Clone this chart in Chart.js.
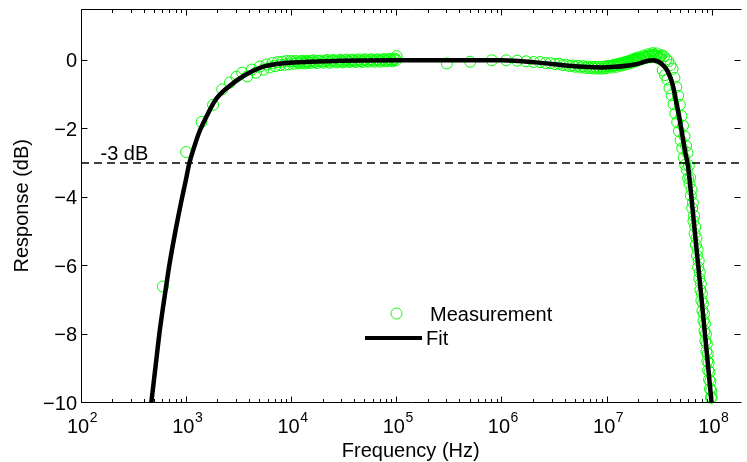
<!DOCTYPE html>
<html><head><meta charset="utf-8">
<script src="https://cdn.jsdelivr.net/npm/chart.js@4"></script>
<style>html,body{margin:0;padding:0;background:#fff;}canvas{display:block;}</style>
</head><body>
<canvas id="c" width="747" height="462"></canvas>
<script>
// ---- data ----
const measLowFreqHz = [
  600,1000,1400,1800,2200,2600,3000,3400,3800,4200,
  4600,5000,5400,5800,6200,6600,7000,7400,7800,8200,
  8600,9000,9400,9800,10200,10600,11000,11800,12600,13400,
  14200,15000,16200,17400,18600,20200,21800,23400,25000,27000,
  29000,31000,33400,35800,38200,41000,44200,47400,50600,54200,
  57800,61800,66200,70600,75400,80200,85400,91000,96600,99800];
const measLowDb = [
  -6.61,-2.68,-1.80,-1.30,-0.85,-0.65,-0.48,-0.36,-0.47,-0.27,
  -0.36,-0.18,-0.27,-0.12,-0.21,-0.08,-0.17,-0.05,-0.14,-0.04,
  -0.13,-0.02,-0.12,-0.02,-0.03,-0.10,-0.02,-0.09,-0.01,-0.09,
  -0.02,-0.08,0.00,-0.08,-0.01,-0.07,0.01,-0.07,0.01,-0.06,
  0.02,-0.06,0.02,-0.05,0.02,-0.05,0.03,-0.05,0.03,-0.04,
  0.03,-0.04,0.03,-0.04,0.04,-0.03,0.04,-0.03,0.05,0.12];
const measMidFreqHz = [
  11400,12200,13000,13800,14600,15400,16600,17800,19400,21000,
  22600,24200,26200,28200,30200,32200,34600,37000,39800,42600,
  45800,49000,52200,56200,59800,64200,68200,73000,77800,82600,
  88200,93800,98200];
const measMidDb = [
  -0.06,-0.04,-0.06,-0.03,-0.05,-0.02,-0.05,-0.02,-0.04,-0.02,
  -0.04,-0.01,-0.03,-0.01,-0.03,0.00,-0.03,0.00,-0.02,0.00,
  -0.02,0.01,-0.02,0.01,-0.01,0.01,-0.01,0.01,-0.01,0.02,
  0.00,0.02,0.00];
const measHighFreqMHz = [
  0.3,0.5,0.8,1.1,1.4,1.7,2.0,2.3,2.6,2.9,
  3.2,3.5,3.8,4.1,4.4,4.7,5.0,5.3,5.6,5.9,
  6.2,6.5,6.8,7.1,7.4,7.7,8.0,8.3,8.6,8.9,
  9.2,9.5,9.8,10.4,11.0,11.6,12.2,12.8,13.4,14.0,
  14.6,15.2,15.8,16.4,17.0,17.6,18.2,18.8,19.4,20.0,
  21.2,22.4,23.6,24.8,26.0,27.2,28.4,29.6,30.8,32.0,
  32.9,33.8,34.7,35.6,36.5,37.4,38.3,39.2,40.1,41.0,
  41.9,42.8,43.7,44.6,45.5,46.4,47.3,48.2,49.1,50.0,
  50.9,51.8,52.7,53.6,54.5,55.4,56.3,57.2,58.1,59.0,
  59.9,60.8,61.7,62.6,63.5,64.4,65.3,66.2,67.1,68.0,
  68.9,69.8,70.7,71.6,72.5,73.4,74.3,75.2,76.1,77.0,
  77.9,78.8,79.7,80.6,81.5,82.4,83.3,84.2,85.1,86.0,
  86.9,87.8,88.7,89.6,90.5,91.4,92.3,93.2,94.1,95.0,
  95.9,96.8,97.7,98.6];
const measHighDb = [
  -0.09,-0.04,0.00,0.00,-0.01,-0.03,-0.05,-0.05,-0.08,-0.08,
  -0.11,-0.10,-0.14,-0.13,-0.17,-0.15,-0.19,-0.16,-0.21,-0.17,
  -0.22,-0.18,-0.23,-0.19,-0.24,-0.19,-0.24,-0.19,-0.24,-0.19,
  -0.24,-0.18,-0.23,-0.16,-0.21,-0.13,-0.19,-0.10,-0.16,-0.07,
  -0.13,-0.04,-0.10,-0.01,-0.07,0.03,-0.04,0.06,-0.01,0.09,
  0.03,0.14,0.07,0.18,0.09,0.21,0.10,0.20,0.05,0.12,
  0.15,-0.29,0.12,-0.43,0.03,-0.56,-0.03,-0.81,-0.14,-1.02,
  -0.25,-1.28,-0.51,-1.55,-0.78,-1.81,-1.04,-2.07,-1.30,-2.34,
  -1.63,-2.57,-1.91,-2.84,-2.22,-3.05,-2.50,-3.20,-2.70,-3.45,
  -3.07,-3.60,-3.43,-3.95,-3.78,-4.32,-4.16,-4.70,-4.54,-5.06,
  -4.87,-5.39,-5.20,-5.71,-5.53,-6.05,-5.86,-6.38,-6.19,-6.71,
  -6.52,-7.02,-6.82,-7.32,-7.11,-7.61,-7.41,-7.91,-7.70,-8.20,
  -8.00,-8.50,-8.29,-8.79,-8.58,-9.06,-8.84,-9.33,-9.11,-9.60,
  -9.38,-9.86,-9.65,-9.85];
const measPeakFreqMHz = [
  10.1,10.7,11.3,11.9,12.5,13.1,13.7,14.3,14.9,15.5,
  16.1,16.7,17.3,17.9,18.5,19.1,19.7,20.6,21.8,23.0,
  24.2,25.4,26.6,27.8,29.0,30.2,31.4];
const measPeakDb = [
  -0.18,-0.17,-0.16,-0.15,-0.13,-0.12,-0.10,-0.09,-0.08,-0.06,
  -0.05,-0.03,-0.02,0.00,0.01,0.03,0.04,0.06,0.08,0.10,
  0.12,0.14,0.15,0.16,0.14,0.12,0.08];
const fitFreqHz = [
  466,520,555,600,645,690,800,905,1000,1062,
  1200,1318,1527,1896,2531,3631,5610,8700,15000,30000,
  1e5,1e6,2.1e6,4.3e6,8.9e6,1.19e7,1.83e7,2.71e7,3.27e7,3.78e7,
  4.21e7,4.53e7,4.87e7,5.23e7,5.54e7,5.85e7,6.31e7,6.74e7,7.8e7,8.99e7,
  9.84e7];
const fitDb = [
  -10,-8.75,-8.0,-7.25,-6.6,-6.0,-4.9,-4.07,-3.45,-3.05,
  -2.5,-2.13,-1.7,-1.16,-0.77,-0.43,-0.17,-0.08,-0.04,-0.01,
  0,0,-0.06,-0.16,-0.21,-0.19,-0.12,0.0,-0.09,-0.33,
  -0.72,-1.2,-1.69,-2.25,-2.7,-3.05,-3.95,-4.85,-6.79,-8.74,
  -10];
const thresholdDb = -3;
const thresholdLabel = '-3 dB';
const xTickExponents = [2,3,4,5,6,7,8];
const yTickValues = [-10,-8,-6,-4,-2,0];
const xLimits = [100, 1.854e8];
const yLimits = [-10, 1.5];
const seriesNames = ['Measurement', 'Fit'];
const xTitle = 'Frequency (Hz)';
const yTitle = 'Response (dB)';

// ---- build chart ----
const FONT = '"Liberation Sans", Arial, Helvetica, sans-serif';
const GREEN = '#00ff00';
const toPts = (xs, ys, k) => xs.map((f, i) => ({x: f * k, y: ys[i]}));
const measPoints = [].concat(
  toPts(measLowFreqHz, measLowDb, 1),
  toPts(measMidFreqHz, measMidDb, 1),
  toPts(measHighFreqMHz, measHighDb, 1e6),
  toPts(measPeakFreqMHz, measPeakDb, 1e6));
const fitPoints = toPts(fitFreqHz, fitDb, 1);
const thrPoints = [{x:xLimits[0], y:thresholdDb},{x:xLimits[1], y:thresholdDb}];

const axesPlugin = {
  id: 'matlabAxes',
  afterDatasetsDraw(chart){
    const ctx = chart.ctx, a = chart.chartArea, xs = chart.scales.x, ys = chart.scales.y;
    const snap = v => Math.round(v - 0.5) + 0.5;
    const L = snap(a.left), T = snap(a.top), B = snap(a.bottom), R = a.right;
    ctx.save();
    ctx.strokeStyle = '#000'; ctx.lineWidth = 1;
    const seg = (x1,y1,x2,y2)=>{ctx.beginPath();ctx.moveTo(x1,y1);ctx.lineTo(x2,y2);ctx.stroke();};
    seg(L, T, R + 1, T); seg(L, B, R + 1, B); seg(L, T, L, B);
    const eMin = xTickExponents[0], eMax = xTickExponents[xTickExponents.length - 1];
    for (let e = eMin; e <= eMax; e++) {
      for (let m = 1; m <= 9; m++) {
        const v = m * Math.pow(10, e);
        if (v > xLimits[1]) break;
        const px = snap(xs.getPixelForValue(v));
        const len = m === 1 ? 6 : 3.5;
        seg(px, B, px, B - len); seg(px, T, px, T + len);
      }
    }
    for (const v of yTickValues) {
      const py = snap(ys.getPixelForValue(v));
      seg(L, py, L + 6, py); seg(R, py, R - 6, py);
    }
    ctx.fillStyle = '#000';
    ctx.font = '20px ' + FONT; ctx.textAlign = 'right'; ctx.textBaseline = 'alphabetic';
    for (const v of yTickValues) {
      const py = ys.getPixelForValue(v);
      const s = v < 0 ? '\u2212' + Math.abs(v) : String(v);
      ctx.fillText(s, 77, py + 7);
    }
    ctx.textAlign = 'left';
    for (const e of xTickExponents) {
      const px = xs.getPixelForValue(Math.pow(10, e));
      ctx.font = '20px ' + FONT; const w1 = ctx.measureText('10').width;
      ctx.font = '14px ' + FONT; const w2 = ctx.measureText(String(e)).width;
      const x0 = px - (w1 + w2) / 2 + 1;
      ctx.font = '20px ' + FONT; ctx.fillText('10', x0, 433);
      ctx.font = '14px ' + FONT; ctx.fillText(String(e), x0 + w1 + 0.5, 421.5);
    }
    ctx.font = '20px ' + FONT; ctx.textAlign = 'center';
    ctx.fillText(xTitle, (a.left + R) / 2, 457);
    ctx.save(); ctx.translate(28, (a.top + a.bottom) / 2); ctx.rotate(-Math.PI / 2);
    ctx.fillText(yTitle, 0, 0); ctx.restore();
    ctx.textAlign = 'left';
    ctx.fillText(thresholdLabel, 100.5, 160);
    ctx.strokeStyle = GREEN; ctx.lineWidth = 1;
    ctx.beginPath(); ctx.arc(396.5, 313.5, 5.5, 0, Math.PI * 2); ctx.stroke();
    ctx.strokeStyle = '#000'; ctx.lineWidth = 4;
    seg(365, 338, 422, 338);
    ctx.fillText(seriesNames[0], 430, 321);
    ctx.fillText(seriesNames[1], 426, 345);
    ctx.restore();
  }
};

new Chart(document.getElementById('c'), {
  type: 'scatter',
  data: { datasets: [
    { label: seriesNames[1], data: fitPoints, showLine: true, borderColor: '#000', borderWidth: 4.5,
      pointRadius: 0, cubicInterpolationMode: 'monotone', fill: false, order: 0, clip: 0 },
    { label: 'threshold', data: thrPoints, showLine: true, borderColor: '#000', borderWidth: 1.7,
      borderDash: [8, 5], pointRadius: 0, fill: false, order: 1, clip: 0 },
    { label: seriesNames[0], data: measPoints, showLine: false, pointStyle: 'circle', pointRadius: 5.5,
      pointBorderColor: GREEN, pointBackgroundColor: 'rgba(0,0,0,0)', pointBorderWidth: 1, order: 2, clip: 2 }
  ]},
  options: {
    responsive: false, animation: false, devicePixelRatio: 1, events: [],
    layout: { padding: { left: 81, top: 9, right: 0, bottom: 59.5 } },
    plugins: { legend: { display: false }, tooltip: { enabled: false } },
    scales: {
      x: { type: 'logarithmic', min: xLimits[0], max: xLimits[1], display: false },
      y: { type: 'linear', min: yLimits[0], max: yLimits[1], display: false }
    }
  },
  plugins: [axesPlugin]
});
</script>
</body></html>
